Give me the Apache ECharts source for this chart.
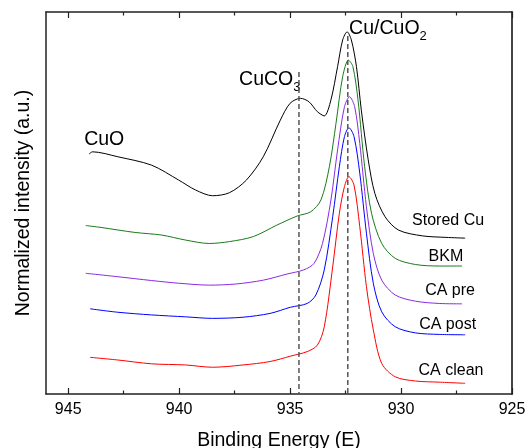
<!DOCTYPE html>
<html><head><meta charset="utf-8">
<script src="https://cdn.jsdelivr.net/npm/echarts@6/dist/echarts.min.js"></script>
<style>html,body{margin:0;padding:0;background:#fff}#c{width:531px;height:448px}</style>
</head><body><div id="c"></div>
<script>
// ---- data (binding energy in eV, normalized intensity in a.u.) ----
const storedE = [944.06, 943.9, 942.76, 941.24, 940.02, 939.26, 938.49, 937.73, 936.97, 936.21, 935.44, 935.0, 934.53, 934.15, 933.77, 933.46, 933.16, 932.86, 932.63, 932.43, 932.24, 932.01, 931.79, 931.48, 931.18, 930.72, 930.11, 929.04, 927.98, 927.11];
const storedI = [62.8, 63.4, 62.1, 59.9, 56.0, 53.4, 51.9, 52.7, 56.0, 62.1, 71.7, 76.1, 77.4, 76.5, 73.9, 72.8, 77.0, 85.7, 92.7, 94.8, 92.7, 85.7, 74.3, 61.3, 52.5, 46.4, 42.9, 41.4, 41.0, 40.8];

const bkmE = [944.21, 943.52, 942.0, 940.78, 939.71, 938.64, 937.73, 936.66, 935.6, 934.68, 934.07, 933.61, 933.23, 932.93, 932.63, 932.37, 932.17, 931.94, 931.64, 931.33, 930.87, 930.26, 929.35, 928.28, 927.25];
const bkmI = [44.1, 43.6, 42.3, 41.6, 40.3, 39.4, 39.9, 41.2, 44.2, 46.6, 47.7, 50.8, 59.5, 70.9, 83.1, 87.4, 85.7, 77.0, 59.5, 47.3, 39.4, 35.5, 33.9, 33.5, 33.5];

const preE = [944.21, 942.76, 941.24, 940.02, 938.64, 937.43, 936.21, 935.14, 934.38, 933.92, 933.54, 933.16, 932.86, 932.55, 932.32, 932.09, 931.86, 931.56, 931.25, 930.87, 930.26, 929.35, 928.28, 927.25];
const preI = [31.6, 30.7, 29.7, 29.0, 28.5, 28.8, 29.8, 31.4, 32.5, 34.2, 39.4, 50.8, 63.9, 75.2, 77.8, 75.2, 65.6, 49.0, 36.8, 29.8, 25.9, 24.3, 23.7, 23.6];

const postE = [944.01, 942.76, 941.24, 939.71, 938.49, 937.12, 935.9, 934.99, 934.23, 933.84, 933.46, 933.08, 932.78, 932.55, 932.35, 932.12, 931.86, 931.56, 931.25, 930.87, 930.26, 929.35, 928.28, 927.11];
const postI = [22.3, 21.4, 20.7, 20.2, 19.8, 20.1, 21.1, 22.7, 23.7, 25.9, 32.5, 46.4, 59.5, 67.4, 69.7, 67.4, 57.8, 42.1, 29.0, 21.5, 17.6, 16.0, 15.6, 15.5];

const cleanE = [944.01, 942.76, 941.24, 939.71, 938.49, 937.12, 935.9, 934.99, 934.23, 933.77, 933.46, 933.08, 932.78, 932.55, 932.35, 932.12, 931.86, 931.56, 931.25, 930.87, 930.26, 929.35, 928.28, 927.11];
const cleanI = [9.6, 8.9, 7.9, 7.6, 7.0, 7.6, 8.5, 9.9, 11.1, 12.8, 17.6, 33.3, 47.3, 54.3, 56.9, 54.7, 43.8, 28.1, 16.8, 8.0, 4.5, 3.4, 3.1, 2.8];

const seriesNames = ['Stored Cu', 'BKM', 'CA pre', 'CA post', 'CA clean'];
const seriesColors = ['#000000', '#1a7a1a', '#8a2be2', '#0000ff', '#ff0000'];

// reference peak positions (dashed guides)
const refPeakE = [934.6, 932.4];
const refPeakTop = [84.3, 93.7];

const majorTicks = [925, 930, 935, 940, 945];
const minorTicks = [927.5, 932.5, 937.5, 942.5];

// annotation text positions (data coords)
const curveLabelPos = [[927.88, 45.5], [927.98, 35.9], [927.79, 27.1], [927.9, 18.3], [927.75, 6.1]];
const peakLabels = [
  {main: 'CuO', sub: '', e: 944.28, i: 66.6},
  {main: 'CuCO', sub: '3', e: 937.3, i: 82.3},
  {main: 'Cu/CuO', sub: '2', e: 932.34, i: 95.6}
];

function pairs(xs, ys) { return xs.map((x, k) => [x, ys[k]]); }
const allData = [pairs(storedE, storedI), pairs(bkmE, bkmI), pairs(preE, preI), pairs(postE, postI), pairs(cleanE, cleanI)];

const FONT = '"Liberation Sans", Arial, sans-serif';
const chart = echarts.init(document.getElementById('c'), null, {renderer: 'canvas'});

const baseX = {type: 'value', min: 925, max: 946, inverse: true, gridIndex: 0};
const option = {
  animation: false,
  backgroundColor: '#fff',
  grid: {left: 46, right: 19, top: 12, bottom: 54, containLabel: false, outerBoundsMode: 'none'},
  xAxis: [
    Object.assign({}, baseX, {
      position: 'bottom',
      name: 'Binding Energy (E)', nameLocation: 'middle', nameGap: 37,
      nameTextStyle: {fontFamily: FONT, fontSize: 19.5, color: '#000'},
      axisLine: {show: true, lineStyle: {color: '#222', width: 1.5}},
      axisTick: {show: true, inside: true, length: 6, customValues: majorTicks, lineStyle: {color: '#222', width: 1.2}},
      axisLabel: {show: true, customValues: majorTicks, margin: 8, fontFamily: FONT, fontSize: 16, color: '#000'},
      splitLine: {show: false}
    }),
    Object.assign({}, baseX, {
      position: 'bottom',
      axisLine: {show: false},
      axisTick: {show: true, inside: true, length: 3.5, customValues: minorTicks, lineStyle: {color: '#222', width: 1.2}},
      axisLabel: {show: false},
      splitLine: {show: false}
    }),
    Object.assign({}, baseX, {
      position: 'top',
      axisLine: {show: true, lineStyle: {color: '#222', width: 1.5}},
      axisTick: {show: true, inside: true, length: 6, customValues: majorTicks, lineStyle: {color: '#222', width: 1.2}},
      axisLabel: {show: false},
      splitLine: {show: false}
    }),
    Object.assign({}, baseX, {
      position: 'top',
      axisLine: {show: false},
      axisTick: {show: true, inside: true, length: 3.5, customValues: minorTicks, lineStyle: {color: '#222', width: 1.2}},
      axisLabel: {show: false},
      splitLine: {show: false}
    })
  ],
  yAxis: [
    {
      type: 'value', min: 0, max: 100, position: 'left',
      name: 'Normalized intensity (a.u.)', nameLocation: 'middle', nameGap: 12,
      nameTextStyle: {fontFamily: FONT, fontSize: 19.5, color: '#000'},
      axisLine: {show: true, lineStyle: {color: '#222', width: 1.5}},
      axisTick: {show: false}, axisLabel: {show: false}, splitLine: {show: false}
    },
    {
      type: 'value', min: 0, max: 100, position: 'right',
      axisLine: {show: true, lineStyle: {color: '#444', width: 2}},
      axisTick: {show: false}, axisLabel: {show: false}, splitLine: {show: false}
    }
  ],
  series: allData.map((d, k) => ({
    name: seriesNames[k], type: 'line', data: d, showSymbol: false, symbol: 'none',
    smooth: 0.3, lineStyle: {color: seriesColors[k], width: 1}, z: 3 + (4 - k)
  })).concat(refPeakE.map((e, k) => ({
    name: 'guide' + k, type: 'line', data: [[e, refPeakTop[k]], [e, 0]], showSymbol: false, symbol: 'none',
    lineStyle: {color: '#555', width: 1.5, type: [5, 3]}, z: 10, silent: true
  })))
};
chart.setOption(option);

const graphics = [];
curveLabelPos.forEach((p, k) => {
  const px = chart.convertToPixel({xAxisIndex: 0, yAxisIndex: 0}, p);
  graphics.push({type: 'text', x: px[0], y: px[1], style: {text: seriesNames[k], font: '16px ' + FONT, fill: '#000', textAlign: 'center', textVerticalAlign: 'middle'}});
});
peakLabels.forEach(l => {
  const px = chart.convertToPixel({xAxisIndex: 0, yAxisIndex: 0}, [l.e, l.i]);
  const ctx = document.createElement('canvas').getContext('2d');
  ctx.font = '19.5px ' + FONT;
  const w = ctx.measureText(l.main).width;
  graphics.push({type: 'text', x: px[0], y: px[1], style: {text: l.main, font: '19.5px ' + FONT, fill: '#000', textAlign: 'left', textVerticalAlign: 'middle'}});
  if (l.sub) {
    graphics.push({type: 'text', x: px[0] + w, y: px[1] + 8, style: {text: l.sub, font: '13px ' + FONT, fill: '#000', textAlign: 'left', textVerticalAlign: 'middle'}});
  }
});
chart.setOption({graphic: graphics});
</script></body></html>
